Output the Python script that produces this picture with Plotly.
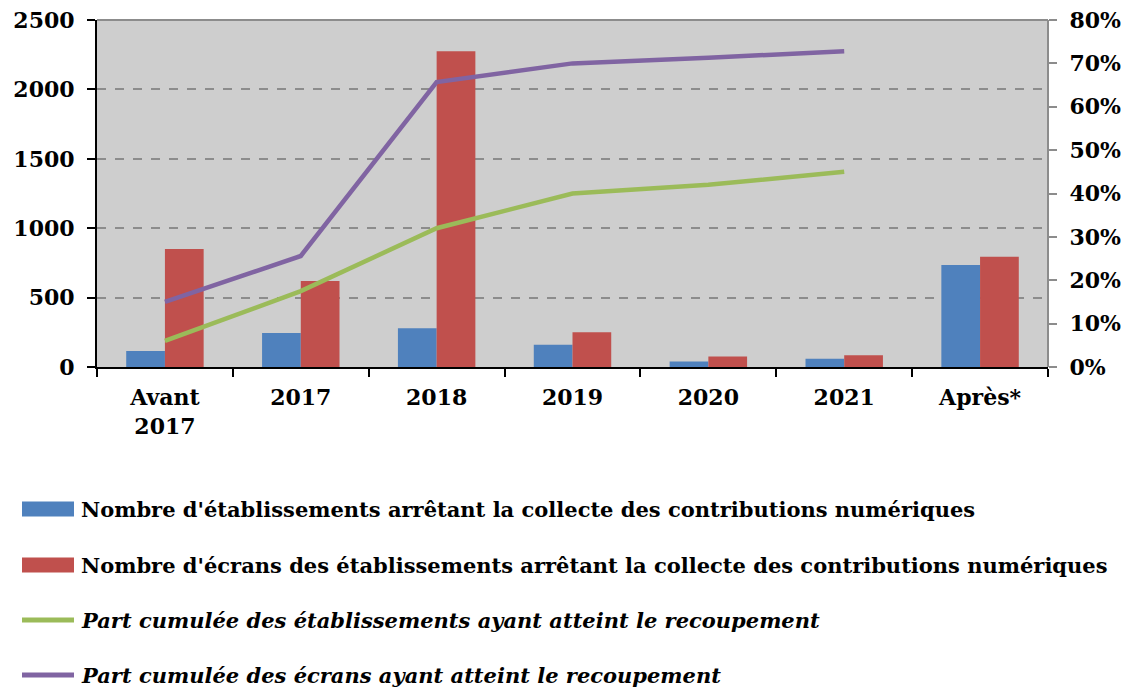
import plotly.graph_objects as go

categories = ["Avant<br>2017", "2017", "2018", "2019", "2020", "2021", "Après*"]
etablissements = [115, 245, 280, 160, 40, 60, 735]
ecrans = [850, 620, 2275, 250, 75, 85, 795]
part_etab = [0.06, 0.175, 0.32, 0.40, 0.42, 0.45]
part_ecrans = [0.15, 0.256, 0.657, 0.70, 0.713, 0.728]

names = [
    "Nombre d'établissements arrêtant la collecte des contributions numériques",
    "Nombre d'écrans des établissements arrêtant la collecte des contributions numériques",
    "Part cumulée des établissements ayant atteint le recoupement",
    "Part cumulée des écrans ayant atteint le recoupement",
]
colors = ["#4F81BD", "#C0504D", "#9BBB59", "#8064A2"]

FONT = "DejaVu Serif"
OFF = 8  # page body margin
W, H = 1137 - OFF, 691 - OFF
L, R, T = 97 - OFF, 89, 20 - OFF
ph = 347
B = H - T - ph
pw = W - L - R

fig = go.Figure()
fig.add_trace(go.Bar(x=categories, y=etablissements, name=names[0],
                     marker=dict(color=colors[0], line=dict(width=0))))
fig.add_trace(go.Bar(x=categories, y=ecrans, name=names[1],
                     marker=dict(color=colors[1], line=dict(width=0))))
fig.add_trace(go.Scatter(x=categories[:6], y=part_etab, name=names[2], yaxis="y2",
                         mode="lines", line=dict(color=colors[2], width=4.5)))
fig.add_trace(go.Scatter(x=categories[:6], y=part_ecrans, name=names[3], yaxis="y2",
                         mode="lines", line=dict(color=colors[3], width=4.5)))

def px_x(x):
    return (x - OFF - L) / pw

def px_y(y):
    return (T + ph - (y - OFF)) / ph

shapes = [
    dict(type="line", xref="paper", yref="paper", x0=0, x1=1, y0=1, y1=1,
         line=dict(color="#8c8c8c", width=2)),
    dict(type="line", xref="paper", yref="paper", x0=1, x1=1, y0=0, y1=1,
         line=dict(color="#8c8c8c", width=2)),
]
annotations = []
legend_y = [509, 565, 620, 675]
for i, (nm, c, yy) in enumerate(zip(names, colors, legend_y)):
    if i < 2:
        shapes.append(dict(type="rect", xref="paper", yref="paper",
                           x0=px_x(22), x1=px_x(74), y0=px_y(yy - 7.5), y1=px_y(yy + 7.5),
                           fillcolor=c, line=dict(width=0)))
        txt = "<b>" + nm + "</b>"
    else:
        shapes.append(dict(type="line", xref="paper", yref="paper",
                           x0=px_x(22), x1=px_x(74), y0=px_y(yy), y1=px_y(yy),
                           line=dict(color=c, width=5)))
        txt = "<b><i>" + nm + "</i></b>"
    annotations.append(dict(xref="paper", yref="paper", x=px_x(79), y=px_y(yy),
                            xanchor="left", yanchor="middle", showarrow=False,
                            text=txt, font=dict(family=FONT, size=21, color="black")))

tf = dict(family=FONT, size=22, color="black", weight="bold")
fig.update_layout(
    width=W, height=H,
    margin=dict(l=L, r=R, t=T, b=B, autoexpand=False),
    paper_bgcolor="white", plot_bgcolor="#cecece",
    barmode="group", bargap=0.43, bargroupgap=0,
    showlegend=False,
    font=dict(family=FONT, size=22, color="black"),
    xaxis=dict(type="category", tickson="boundaries", ticks="outside", ticklen=8,
               tickwidth=2, tickcolor="black", showline=True, linecolor="black",
               linewidth=2, showgrid=False, tickfont=tf, ticklabelstandoff=10),
    yaxis=dict(range=[0, 2500], dtick=500, ticks="outside", ticklen=8, tickwidth=2,
               tickcolor="black", showline=True, linecolor="black", linewidth=2,
               showgrid=True, gridcolor="#8c8c8c", gridwidth=2, griddash="dash",
               zeroline=False, tickformat="d", tickfont=tf,
               ticklabelstandoff=8, ticklabeloverflow="allow"),
    yaxis2=dict(range=[0, 0.8], dtick=0.1, overlaying="y", side="right",
                tickformat=".0%", ticks="outside", ticklen=8, tickwidth=2,
                tickcolor="#8c8c8c", showline=False, showgrid=False, zeroline=False,
                tickfont=tf, ticklabelstandoff=8, ticklabeloverflow="allow"),
    shapes=shapes, annotations=annotations,
)

fig.write_html("out.html")
